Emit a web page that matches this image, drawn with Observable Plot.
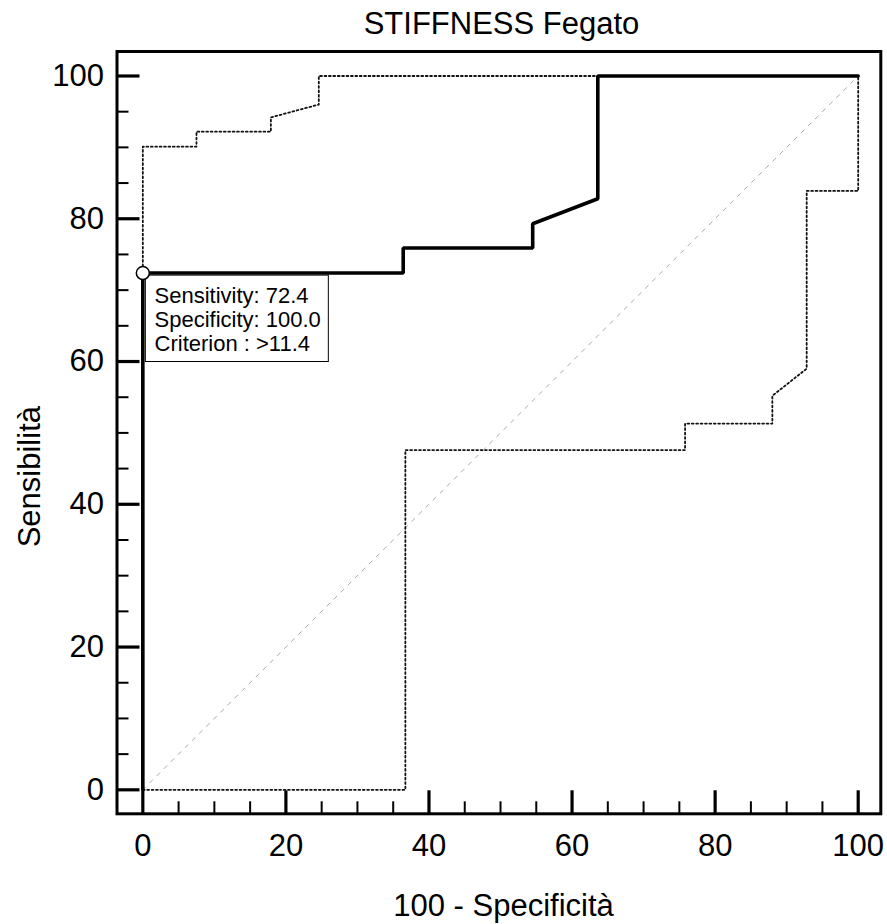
<!DOCTYPE html>
<html>
<head>
<meta charset="utf-8">
<script src="https://cdn.jsdelivr.net/npm/d3@7"></script>
<script src="https://cdn.jsdelivr.net/npm/@observablehq/plot@0.6"></script>
<style>
  html, body { margin: 0; padding: 0; background: #fff; }
  #chart svg { display: block; }
</style>
</head>
<body>
<div id="chart"></div>
<script>
// ---- Text ----
const chartTitle = "STIFFNESS Fegato";
const xAxisLabel = "100 - Specificità";
const yAxisLabel = "Sensibilità";
const criterionLines = ["Sensitivity: 72.4", "Specificity: 100.0", "Criterion : >11.4"];

// ---- Ticks ----
const majorTicks = [0, 20, 40, 60, 80, 100];
const minorTicks = [5, 10, 15, 25, 30, 35, 45, 50, 55, 65, 70, 75, 85, 90, 95];

// ---- ROC curve (100 - specificity, sensitivity) ----
const rocX = [0, 0, 36.4, 36.4, 54.5, 54.5, 63.6, 63.6, 100];
const rocY = [0, 72.4, 72.4, 75.9, 75.9, 79.3, 82.8, 100, 100];

// ---- Upper confidence bound ----
const upperX = [0, 0, 7.5, 7.5, 17.9, 17.9, 24.6, 24.6, 100];
const upperY = [0, 90.1, 90.1, 92.2, 92.2, 94.2, 96.0, 100, 100];

// ---- Lower confidence bound ----
const lowerX = [0, 36.7, 36.7, 75.8, 75.8, 88.0, 88.0, 92.8, 92.8, 100, 100];
const lowerY = [0, 0, 47.6, 47.6, 51.3, 51.3, 55.2, 59.0, 83.9, 83.9, 100];

// ---- Reference diagonal ----
const diagX = [0, 100];
const diagY = [0, 100];

// ---- Optimal criterion point ----
const criterionX = [0];
const criterionY = [72.4];

const pts = (xs, ys) => xs.map((x, i) => ({x, y: ys[i]}));
const roc = pts(rocX, rocY);
const upper = pts(upperX, upperY);
const lower = pts(lowerX, lowerY);
const diag = pts(diagX, diagY);
const criterion = pts(criterionX, criterionY);

const font = "'Liberation Sans', Arial, Helvetica, sans-serif";

const plot = Plot.plot({
  width: 887,
  height: 924,
  marginLeft: 116.5,
  marginRight: 6.7,
  marginTop: 51,
  marginBottom: 110.7,
  style: {fontFamily: font, background: "#fff", color: "#000", overflow: "visible"},
  x: {domain: [-3.61, 103.16]},
  y: {domain: [-3.36, 103.43]},
  marks: [
    Plot.line(diag, {x: "x", y: "y", stroke: "#aaaaaa", strokeWidth: 1, strokeDasharray: "4 6"}),
    Plot.line(upper, {x: "x", y: "y", stroke: "#111", strokeWidth: 1.8, strokeDasharray: "1.8 2.6"}),
    Plot.line(lower, {x: "x", y: "y", stroke: "#111", strokeWidth: 1.8, strokeDasharray: "1.8 2.6"}),
    Plot.line(roc, {x: "x", y: "y", stroke: "#000", strokeWidth: 3.6, strokeLinejoin: "miter"}),
    Plot.frame({stroke: "#000", strokeWidth: 3}),
    Plot.axisX(minorTicks, {tickSize: -12, strokeWidth: 2, fill: "none", label: null}),
    Plot.axisX(majorTicks, {tickSize: -23, strokeWidth: 3.2, fill: "none", label: null}),
    Plot.axisX(majorTicks, {tickSize: 0, tickPadding: 20, fontSize: 31, label: null, fill: "#000"}),
    Plot.axisY(minorTicks, {tickSize: -12, strokeWidth: 2, fill: "none", label: null}),
    Plot.axisY(majorTicks, {tickSize: -23, strokeWidth: 3.2, fill: "none", label: null}),
    Plot.axisY(majorTicks, {tickSize: 0, tickPadding: 13, fontSize: 31, label: null, fill: "#000"}),
    Plot.rect(criterion, {
      x1: "x", x2: "x", y1: "y", y2: "y",
      insetLeft: 3, insetRight: -186, insetTop: 2.6, insetBottom: -89,
      fill: "#fff", stroke: "#000", strokeWidth: 1
    }),
    Plot.text(criterion, {
      x: "x", y: "y", text: () => criterionLines.join("\n"),
      textAnchor: "start", lineAnchor: "top", dx: 11.7, dy: 12.4,
      fontSize: 22, lineHeight: 1.1, fill: "#000"
    }),
    Plot.dot(criterion, {x: "x", y: "y", r: 6.5, fill: "#fff", stroke: "#000", strokeWidth: 1.5}),
    Plot.text([chartTitle], {
      frameAnchor: "top", text: d => d, lineAnchor: "bottom",
      dx: 2.6, dy: -18, fontSize: 31, fill: "#000"
    }),
    Plot.text([xAxisLabel], {
      frameAnchor: "bottom", text: d => d, lineAnchor: "bottom",
      dx: 4.6, dy: 101.7, fontSize: 31, fill: "#000"
    }),
    Plot.text([yAxisLabel], {
      frameAnchor: "left", text: d => d, rotate: -90, lineAnchor: "bottom", textAnchor: "middle",
      dx: -77.5, dy: 44, fontSize: 31, fill: "#000"
    })
  ]
});

document.getElementById("chart").appendChild(plot);
</script>
</body>
</html>
